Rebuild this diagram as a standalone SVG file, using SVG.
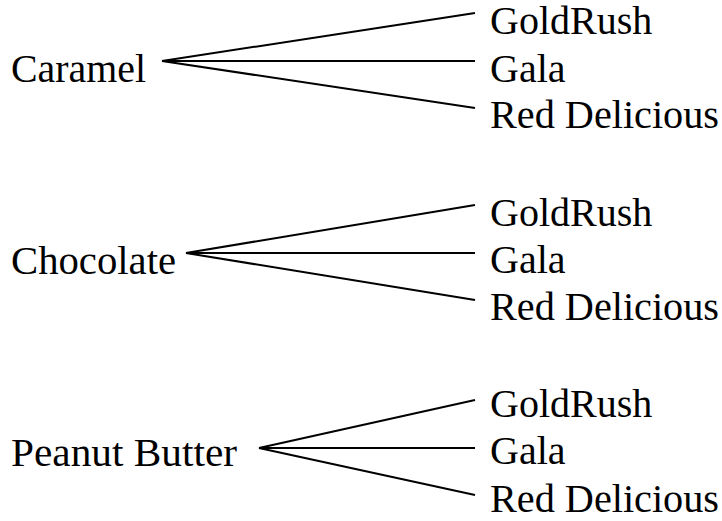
<svg xmlns="http://www.w3.org/2000/svg" width="722" height="521" viewBox="0 0 722 521">
<style>
text{font-family:"Liberation Serif","Times New Roman",serif;font-size:40px;fill:#000}
.c line{stroke:#000;stroke-width:2}
</style>
<rect width="722" height="521" fill="#fff"/>
<g class="c" id="connectors">
<line x1="162" y1="61" x2="475" y2="13"/>
<line x1="162" y1="61" x2="475" y2="61"/>
<line x1="162" y1="61" x2="475" y2="108"/>
<line x1="186" y1="253" x2="475" y2="205"/>
<line x1="186" y1="253" x2="475" y2="253"/>
<line x1="186" y1="253" x2="475" y2="300"/>
<line x1="259" y1="448" x2="475" y2="400"/>
<line x1="259" y1="448" x2="475" y2="448"/>
<line x1="259" y1="448" x2="475" y2="495"/>
</g>
<g id="caramel"><text x="11" y="82" textLength="135" lengthAdjust="spacingAndGlyphs">Caramel</text></g>
<g id="chocolate"><text x="11" y="274" textLength="165" lengthAdjust="spacingAndGlyphs">Chocolate</text></g>
<g id="peanut"><text x="11" y="466" textLength="226" lengthAdjust="spacingAndGlyphs">Peanut Butter</text></g>
<g id="gold1"><text x="490" y="34">GoldRush</text></g>
<g id="gala1"><text x="490" y="82">Gala</text></g>
<g id="red1"><text x="490" y="128" textLength="229" lengthAdjust="spacingAndGlyphs">Red Delicious</text></g>
<g id="gold2"><text x="490" y="226">GoldRush</text></g>
<g id="gala2"><text x="490" y="273">Gala</text></g>
<g id="red2"><text x="490" y="320" textLength="229" lengthAdjust="spacingAndGlyphs">Red Delicious</text></g>
<g id="gold3"><text x="490" y="417">GoldRush</text></g>
<g id="gala3"><text x="490" y="464">Gala</text></g>
<g id="red3"><text x="490" y="512" textLength="229" lengthAdjust="spacingAndGlyphs">Red Delicious</text></g>
</svg>
